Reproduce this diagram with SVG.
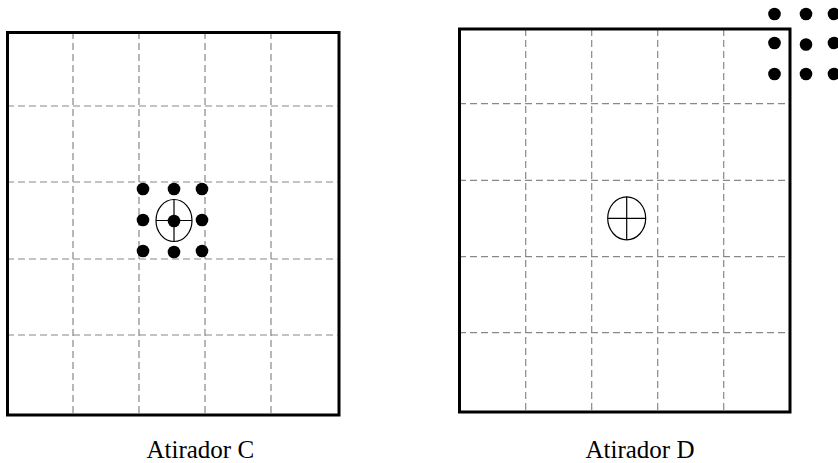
<svg xmlns="http://www.w3.org/2000/svg" width="838" height="463" viewBox="0 0 838 463">
<style>
.box{fill:none;stroke:#000;stroke-width:3}
.grid{stroke:#888;stroke-width:1.2;stroke-dasharray:7,4;fill:none}
.tgt{fill:none;stroke:#000;stroke-width:1.2}
.dot{fill:#000}
.lbl{font-family:"Liberation Serif","Times New Roman",serif;font-size:25px;fill:#000}
</style>
<rect width="838" height="463" fill="#fff"/>
<g id="targetC">
<path class="grid" d="M73,32V415M139,32V415M205,32V415M271,32V415M7,106H339M7,182H339M7,259H339M7,335H339"/>
<rect class="box" x="7.5" y="32.5" width="331.5" height="382.5"/>
<ellipse class="tgt" cx="174" cy="220.5" rx="18" ry="21"/>
<path class="tgt" d="M174,199.5V241.5M156,220.5H192"/>
<g class="dot">
<circle cx="143" cy="189" r="6.3"/><circle cx="174" cy="189" r="6.3"/><circle cx="202" cy="189" r="6.3"/>
<circle cx="143" cy="220" r="6.3"/><circle cx="174" cy="221" r="6.3"/><circle cx="202" cy="220" r="6.3"/>
<circle cx="143" cy="251" r="6.3"/><circle cx="174" cy="252" r="6.3"/><circle cx="202" cy="251" r="6.3"/>
</g>
<text class="lbl" x="146.5" y="457.5">Atirador C</text>
</g>
<g id="targetD">
<path class="grid" d="M525.7,29V412M591.7,29V412M657.7,29V412M723.7,29V412M459,103.7H790M459,180.3H790M459,256.7H790M459,332.7H790"/>
<rect class="box" x="459.5" y="29" width="330.5" height="383"/>
<ellipse class="tgt" cx="626.7" cy="218.3" rx="19" ry="21.5"/>
<path class="tgt" d="M626.7,196.8V239.8M607.7,218.3H645.7"/>
<g class="dot">
<circle cx="774.5" cy="14" r="6.3"/><circle cx="806" cy="14" r="6.3"/><circle cx="834" cy="14" r="6.3"/>
<circle cx="774.5" cy="43" r="6.3"/><circle cx="806" cy="44.5" r="6.3"/><circle cx="834" cy="43" r="6.3"/>
<circle cx="774.5" cy="74" r="6.3"/><circle cx="806" cy="74" r="6.3"/><circle cx="834" cy="74" r="6.3"/>
</g>
<text class="lbl" x="585.5" y="457.5">Atirador D</text>
</g>
</svg>
